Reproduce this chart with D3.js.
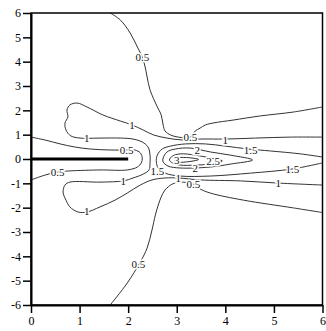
<!DOCTYPE html>
<html>
<head>
<meta charset="utf-8">
<script src="https://cdn.jsdelivr.net/npm/d3@7"></script>
<style>
body { margin: 0; background: #fff; }
</style>
</head>
<body>
<script>
// tick values
var xTicks = [0, 1, 2, 3, 4, 5, 6];
var yTicks = [-6, -5, -4, -3, -2, -1, 0, 1, 2, 3, 4, 5, 6];

// contour lines, [x, y]
var upper05 = [[1.63,6.0],[1.84,5.71],[2.04,5.18],[2.19,4.60],[2.29,4.19],[2.35,3.78],[2.39,3.37],
  [2.45,2.84],[2.60,2.14],[2.68,1.81],[2.72,1.40],[2.76,1.15],[2.87,0.99],[3.03,0.90],[3.28,0.90],
  [3.38,1.15],[3.48,1.27],[3.59,1.40],[3.75,1.48],[4.16,1.60],[4.72,1.77],[5.40,1.93],[6.0,2.14]];
var lower05 = [[1.63,-6.0],[1.98,-5.10],[2.25,-4.23],[2.39,-3.66],[2.49,-2.92],[2.56,-2.30],[2.62,-1.89],
  [2.68,-1.56],[2.76,-1.27],[2.91,-1.03],[3.07,-0.95],[3.34,-1.03],[3.48,-1.23],[3.69,-1.40],
  [4.37,-1.69],[5.40,-2.01],[6.0,-2.20]];
var wake05 = [[0.0,0.90],[0.29,0.78],[0.60,0.62],[0.91,0.49],[1.22,0.41],[1.63,0.37],[1.94,0.37],
  [2.14,0.37],[2.25,0.25],[2.29,0.04],[2.27,-0.16],[2.19,-0.33],[1.98,-0.45],[1.42,-0.45],
  [0.80,-0.49],[0.56,-0.53],[0.29,-0.66],[0.0,-0.86]];
var level1 = [[6.0,0.90],[5.34,0.90],[4.62,0.86],[4.00,0.82],[3.48,0.82],[3.13,0.78],[2.80,0.86],
  [2.52,0.99],[2.31,1.19],[2.08,1.40],[1.84,1.56],[1.48,1.81],[1.15,2.14],[0.95,2.30],[0.80,2.22],
  [0.74,2.01],[0.76,1.73],[0.70,1.48],[0.72,1.19],[0.82,0.95],[1.01,0.86],[1.42,0.86],[1.84,0.86],
  [2.10,0.82],[2.29,0.70],[2.41,0.49],[2.45,0.16],[2.45,-0.16],[2.43,-0.45],[2.31,-0.62],
  [2.10,-0.78],[1.90,-0.90],[1.42,-0.95],[0.80,-0.95],[0.70,-1.07],[0.66,-1.36],[0.72,-1.69],
  [0.80,-1.97],[0.97,-2.18],[1.15,-2.18],[1.42,-1.97],[1.73,-1.69],[1.98,-1.40],[2.25,-1.07],
  [2.49,-0.86],[2.76,-0.78],[3.03,-0.78],[3.48,-0.86],[4.31,-0.90],[5.09,-0.99],[6.0,-1.07]];
var level15 = [[6.0,0.08],[5.55,0.21],[4.93,0.33],[4.47,0.41],[4.00,0.53],[3.59,0.62],[3.18,0.62],
  [2.87,0.53],[2.70,0.41],[2.60,0.16],[2.58,-0.12],[2.62,-0.37],[2.76,-0.58],[3.07,-0.70],
  [3.69,-0.70],[4.52,-0.58],[5.38,-0.41],[6.0,-0.16]];
var level2 = [[2.72,0.04],[2.80,0.29],[2.97,0.41],[3.28,0.45],[3.69,0.29],[4.10,0.16],[4.56,-0.04],
  [4.10,-0.21],[3.69,-0.33],[3.07,-0.37],[2.82,-0.29],[2.72,-0.12]];
var level25 = [[2.85,-0.04],[2.91,0.12],[3.07,0.21],[3.38,0.16],[3.69,0.04],[3.94,-0.08],
  [3.69,-0.21],[3.38,-0.25],[3.07,-0.25],[2.91,-0.16]];
var level3 = [[2.95,-0.04],[3.0,0.04],[3.2,0.06],[3.45,-0.02],[3.2,-0.12],[3.0,-0.12]];

// the plate lying on y = 0
var plate = [[0, 0], [2, 0]];

// contour labels: text, x, y
var labelText = ["0.5", "0.5", "0.5", "0.5", "0.5", "0.5",
  "1", "1", "1", "1", "1", "1", "1",
  "1.5", "1.5", "1.5", "2", "2", "2.5", "3"];
var labelX = [2.29, 3.28, 2.21, 3.34, 1.97, 0.55,
  2.08, 1.15, 4.00, 1.90, 1.15, 3.03, 5.09,
  4.52, 2.60, 5.38, 3.42, 3.38, 3.75, 3.00];
var labelY = [4.19, 0.90, -4.30, -1.03, 0.37, -0.53,
  1.40, 0.86, 0.80, -0.92, -2.12, -0.78, -0.99,
  0.37, -0.49, -0.41, 0.39, -0.39, -0.08, -0.06];

var width = 326;
var height = 331;

var x = d3.scaleLinear().domain([0, 6]).range([31, 322.5]);
var y = d3.scaleLinear().domain([-6, 6]).range([305, 13]);

var svg = d3.select('body')
  .append('svg')
  .attr('width', width)
  .attr('height', height)
  .style('font-family', '"Liberation Serif", "DejaVu Serif", serif');

var line = d3.line()
  .x(function(d) { return x(d[0]); })
  .y(function(d) { return y(d[1]); })
  .curve(d3.curveCatmullRom.alpha(0.5));

var loop = d3.line()
  .x(function(d) { return x(d[0]); })
  .y(function(d) { return y(d[1]); })
  .curve(d3.curveCatmullRomClosed.alpha(0.5));

var g = svg.append('g');

[upper05, lower05, wake05, level1, level15].forEach(function(c) {
  g.append('path')
    .attr('d', line(c))
    .attr('fill', 'none')
    .attr('stroke', '#333')
    .attr('stroke-width', 1);
});

[level2, level25, level3].forEach(function(c) {
  g.append('path')
    .attr('d', loop(c))
    .attr('fill', 'none')
    .attr('stroke', '#333')
    .attr('stroke-width', 1);
});

// plate
g.append('path')
  .attr('d', d3.line().x(function(d) { return x(d[0]); }).y(function(d) { return y(d[1]); })(plate))
  .attr('stroke', '#000')
  .attr('stroke-width', 3);

// labels
g.selectAll('text.lbl')
  .data(labelText)
  .enter().append('text')
  .attr('class', 'lbl')
  .attr('x', function(d, i) { return x(labelX[i]); })
  .attr('y', function(d, i) { return y(labelY[i]); })
  .attr('text-anchor', 'middle')
  .attr('dominant-baseline', 'central')
  .attr('font-size', 11)
  .attr('fill', '#111')
  .attr('stroke', '#fff')
  .attr('stroke-width', 3)
  .attr('paint-order', 'stroke')
  .text(function(d) { return d; });

// frame
svg.append('rect')
  .attr('x', x(0))
  .attr('y', y(6))
  .attr('width', x(6) - x(0))
  .attr('height', y(-6) - y(6))
  .attr('fill', 'none')
  .attr('stroke', '#000')
  .attr('stroke-width', 1.5);

var xaxis = d3.axisBottom(x)
  .tickValues(xTicks)
  .tickSize(8)
  .tickSizeOuter(0)
  .tickPadding(3)
  .tickFormat(function(d) { return String(d); });

var yaxis = d3.axisLeft(y)
  .tickValues(yTicks)
  .tickSize(8)
  .tickSizeOuter(0)
  .tickPadding(2)
  .tickFormat(function(d) { return String(d); });

var gx = svg.append('g')
  .attr('transform', 'translate(0,' + y(-6) + ')')
  .call(xaxis);

var gy = svg.append('g')
  .attr('transform', 'translate(' + x(0) + ',0)')
  .call(yaxis);

[gx, gy].forEach(function(a) {
  a.select('.domain').attr('stroke', '#000').attr('stroke-width', 2);
  a.selectAll('.tick line').attr('stroke', '#000').attr('stroke-width', 1.5);
  a.selectAll('.tick text')
    .attr('fill', '#000')
    .style('font-family', '"Liberation Serif", "DejaVu Serif", serif')
    .style('font-size', '12px');
});
</script>
</body>
</html>
